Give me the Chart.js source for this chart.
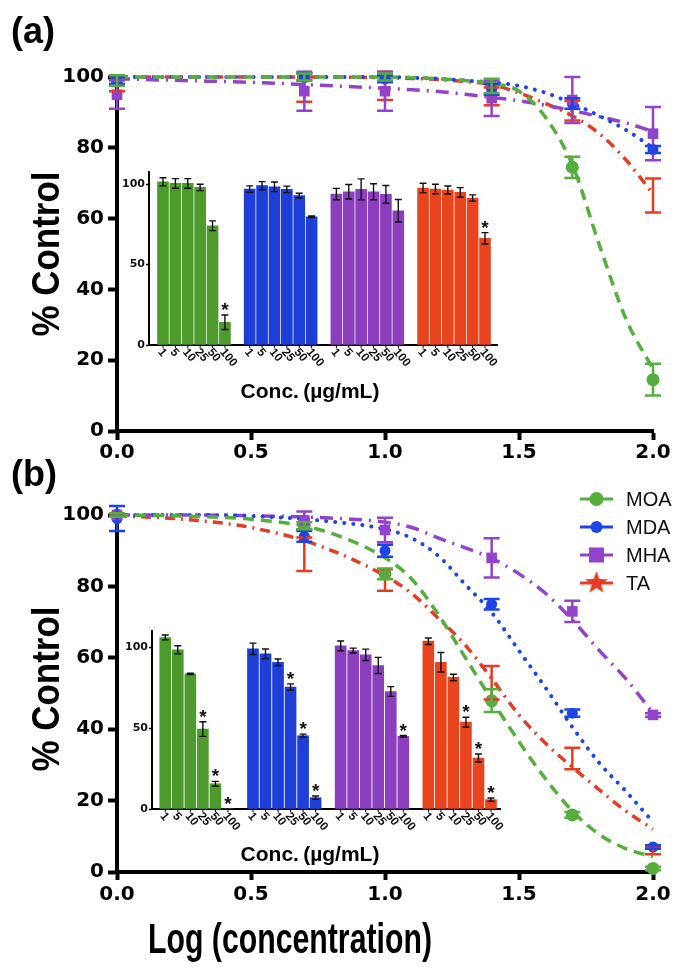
<!DOCTYPE html>
<html><head><meta charset="utf-8">
<script src="https://cdn.jsdelivr.net/npm/chart.js@4.4.1/dist/chart.umd.min.js"></script>
<style>
html,body{margin:0;padding:0;background:#fff;}
#wrap{position:relative;width:676px;height:969px;overflow:hidden;background:#fff;}
canvas{position:absolute;}
.t{position:absolute;font-family:'Liberation Sans',Arial,sans-serif;font-weight:bold;color:#000;white-space:nowrap;line-height:1;}
</style></head><body>
<div id="wrap">
  <canvas id="mainA" width="676" height="480" style="left:0;top:0"></canvas>
  <canvas id="mainB" width="676" height="489" style="left:0;top:480px"></canvas>
  <canvas id="insetA" width="430" height="260" style="left:100px;top:150px"></canvas>
  <canvas id="insetB" width="430" height="260" style="left:100px;top:610px"></canvas>
  <div class="t" style="left:11px;top:13px;font-size:36px;">(a)</div>
  <div class="t" style="left:11px;top:456px;font-size:36px;">(b)</div>
  <div class="t" style="left:46px;top:254px;font-size:38px;transform:translate(-50%,-50%) rotate(-90deg) scaleX(0.92);">% Control</div>
  <div class="t" style="left:46px;top:689px;font-size:38px;transform:translate(-50%,-50%) rotate(-90deg) scaleX(0.92);">% Control</div>
  <div class="t" style="left:290px;top:939px;font-size:42px;transform:translate(-50%,-50%) scaleX(0.72);">Log (concentration)</div>
  <div class="t" style="left:310px;top:390px;font-size:21px;transform:translate(-50%,-50%);">Conc.&thinsp;(µg/mL)</div>
  <div class="t" style="left:310px;top:853px;font-size:21px;transform:translate(-50%,-50%);">Conc.&thinsp;(µg/mL)</div>
</div>
<script>
// ---------------- DATA ----------------
const seriesNames = ['MOA', 'MDA', 'MHA', 'TA'];
const concLabels = ['1', '5', '10', '25', '50', '100'];
const concValues = [1, 5, 10, 25, 50, 100];
const xTickValues = [0, 0.5, 1.0, 1.5, 2.0];
const xTickLabels = ['0.0', '0.5', '1.0', '1.5', '2.0'];
const yTickValues = [0, 20, 40, 60, 80, 100];
const insetTickValues = [0, 50, 100];

// Panel (a) – main points (% control) and errors
const aMOA = [99, 100, 100, 97.5, 74.5, 14.5];
const aMOAerr = [1.5, 1, 1, 2, 3, 4.5];
const aMDA = [99, 100, 99.5, 96.5, 92.5, 79.5];
const aMDAerr = [1, 1, 1, 1.5, 1.5, 1];
const aMHA = [95, 96, 96, 94, 93.5, 84];
const aMHAerr = [4, 5.5, 5.5, 5, 6.5, 7.5];
const aTA = [98, 97, 97.5, 94.5, 90.5, 66.5];
const aTAerr = [2, 4, 4, 2.5, 2.8, 4.8];

// Fitted curves
const curveX = [0, 0.25, 0.5, 0.75, 1.0, 1.1, 1.2, 1.3, 1.4, 1.5, 1.6, 1.7, 1.8, 1.9, 2.0];
const aFitMOA = [100, 100, 100, 100, 100, 99.8, 99.5, 99, 98.2, 96, 88.5, 75, 52.5, 31.5, 17.5];
const aFitMDA = [100, 100, 100, 100, 100, 99.8, 99.5, 99, 98.5, 97.5, 95.5, 92.5, 89, 85, 80];
const aFitMHA = [99.5, 99, 98.5, 97.7, 96.8, 96.4, 95.9, 95.1, 94.2, 93.3, 92, 90.5, 88.8, 87, 84.6];
const aFitTA = [100, 100, 100, 100, 99.8, 99.6, 99.3, 98.7, 97.8, 95.5, 92.5, 89, 84, 76.5, 67];

// Panel (b) – main points and errors
const bMOA = [100, 97, 83.5, 48, 16, 1];
const bMOAerr = [0.5, 1, 1.5, 3.2, 0.8, 0.5];
const bMDA = [99, 94, 90, 75, 44.5, 7];
const bMDAerr = [3.5, 1.5, 1.7, 1.5, 1, 0.5];
const bMHA = [100, 98.5, 95.8, 88, 73, 44];
const bMHAerr = [0.5, 2.5, 3.4, 5.5, 3, 0.5];
const bTA = [100, 89, 81.8, 53, 31.8, 6];
const bTAerr = [0.5, 4.7, 3, 4.7, 3, 1];

const bFitMOA = [100, 99.7, 98.8, 96, 88, 82, 72, 60, 48, 36.5, 26, 17, 10.5, 6.5, 4.3];
const bFitMDA = [100, 100, 99.7, 98.5, 96, 93.5, 88.5, 80.5, 72.5, 62, 51.5, 40.5, 30.5, 22.5, 14];
const bFitMHA = [100, 100, 99.8, 99.3, 98, 96.5, 93.5, 90.8, 87.8, 83.5, 78, 70.5, 62, 54, 44.5];
const bFitTA = [99.8, 98.8, 96.5, 91.5, 83, 78, 71, 63.5, 54, 44, 36, 29.3, 23, 17, 12];

// Inset (a) bars
const iaMOA = [101.4, 100.4, 100.4, 97.9, 74.1, 14.1];
const iaMOAerr = [2.5, 3, 3, 2, 3, 4.5];
const iaMOAsig = [0, 0, 0, 0, 0, 1];
const iaMDA = [96.9, 99, 98.3, 96.7, 92.8, 79.7];
const iaMDAerr = [2, 2.5, 3, 2, 1.5, 0.5];
const iaMDAsig = [0, 0, 0, 0, 0, 0];
const iaMHA = [93.8, 95.2, 96.7, 95.2, 93.6, 83.4];
const iaMHAerr = [3.5, 4.5, 6.5, 5, 5.5, 7];
const iaMHAsig = [0, 0, 0, 0, 0, 0];
const iaTA = [97.5, 96.9, 96.3, 94.8, 91.3, 66.3];
const iaTAerr = [3, 3, 2.5, 3, 2, 3.5];
const iaTAsig = [0, 0, 0, 0, 0, 1];

// Inset (b) bars
const ibMOA = [106, 98.4, 83.5, 49.4, 15.6, 0];
const ibMOAerr = [1.5, 2.5, 0.4, 4.5, 1.5, 0];
const ibMOAsig = [0, 0, 0, 1, 1, 1];
const ibMDA = [99, 95.9, 90.7, 75.3, 45.3, 7];
const ibMDAerr = [3.5, 3, 2, 2, 1, 1];
const ibMDAsig = [0, 0, 0, 1, 1, 1];
const ibMHA = [100.8, 97.9, 95.3, 88.7, 72.6, 44.9];
const ibMHAerr = [3, 1.5, 3.5, 5, 3, 0.5];
const ibMHAsig = [0, 0, 0, 0, 0, 1];
const ibTA = [103.7, 90.7, 81.3, 53.7, 31.5, 5.8];
const ibTAerr = [2, 6, 2, 3, 2.5, 1];
const ibTAsig = [0, 0, 0, 1, 1, 1];

// ---------------- STYLES ----------------
function starImage(color, r) {
  const c = document.createElement('canvas');
  const s = Math.ceil(r * 2 + 2);
  c.width = c.height = s;
  const g = c.getContext('2d');
  g.fillStyle = color;
  g.beginPath();
  for (let k = 0; k < 10; k++) {
    const ang = -Math.PI / 2 + k * Math.PI / 5;
    const rr = (k % 2) ? r * 0.42 : r;
    g.lineTo(s / 2 + rr * Math.cos(ang), s / 2 + rr * Math.sin(ang));
  }
  g.closePath();
  g.fill();
  return c;
}
const styles = [
  { color: '#55ae3e', bar: '#4c9b2c', point: 'circle', r: 6.5, lw: 3.5, dash: [11, 7], cap: 'butt' },
  { color: '#1c44e6', bar: '#1d3fd8', point: 'circle', r: 5.5, lw: 4, dash: [0.1, 9], cap: 'round' },
  { color: '#9343c9', bar: '#8b3fbf', point: 'rect', r: 7.5, lw: 3.5, dash: [13, 7, 2, 7], cap: 'butt' },
  { color: '#e33d25', bar: '#e8451f', point: null, r: 0, lw: 3.5, dash: [10, 6, 2, 6], cap: 'butt' }
];
styles[3].point = starImage('#e33d25', 10);
const legendStar = starImage('#e33d25', 12);

const TICK_FONT = { family: 'DejaVu Sans', weight: 'bold', size: 20 };

// ---------------- PLUGINS ----------------
const errorBars = {
  id: 'errorBars',
  afterDatasetsDraw(chart) {
    const ctx = chart.ctx;
    chart.data.datasets.forEach((ds, i) => {
      if (!ds.errors) return;
      const meta = chart.getDatasetMeta(i);
      const ys = chart.scales[meta.yAxisID];
      ctx.save();
      ctx.strokeStyle = ds.errColor;
      ctx.lineWidth = ds.errWidth;
      meta.data.forEach((el, j) => {
        const e = ds.errors[j];
        if (!e) return;
        const raw = ds.data[j];
        const v = (typeof raw === 'object') ? raw.y : raw;
        const x = el.x;
        const y1 = ys.getPixelForValue(v + e), y2 = ys.getPixelForValue(v - e);
        ctx.beginPath();
        ctx.moveTo(x, y1); ctx.lineTo(x, y2);
        ctx.moveTo(x - ds.capHalf, y1); ctx.lineTo(x + ds.capHalf, y1);
        ctx.moveTo(x - ds.capHalf, y2); ctx.lineTo(x + ds.capHalf, y2);
        ctx.stroke();
      });
      ctx.restore();
    });
  }
};

const insetLabels = {
  id: 'insetLabels',
  afterDraw(chart) {
    const ctx = chart.ctx;
    const ys = chart.scales.y;
    const base = chart.chartArea.bottom;
    ctx.save();
    chart.data.datasets.forEach((ds, i) => {
      const meta = chart.getDatasetMeta(i);
      meta.data.forEach((el, j) => {
        const x = el.x;
        ctx.strokeStyle = '#000'; ctx.lineWidth = 1;
        ctx.beginPath(); ctx.moveTo(x, base); ctx.lineTo(x, base + 3); ctx.stroke();
        ctx.save();
        ctx.translate(x - 3, base + 5);
        ctx.rotate(50 * Math.PI / 180);
        ctx.fillStyle = '#111';
        ctx.font = 'bold 12px "Liberation Sans", Arial, sans-serif';
        ctx.textAlign = 'left';
        ctx.textBaseline = 'middle';
        ctx.fillText(concLabels[j], 0, 0);
        ctx.restore();
        if (ds.sig && ds.sig[j]) {
          const v = ds.data[j].y + (ds.errors[j] || 0);
          ctx.fillStyle = '#111';
          ctx.font = 'bold 19px "Liberation Sans", Arial, sans-serif';
          ctx.textAlign = 'center';
          ctx.textBaseline = 'alphabetic';
          ctx.fillText('*', x, ys.getPixelForValue(v) + 1);
        }
      });
    });
    ctx.restore();
  }
};

const legendB = {
  id: 'legendB',
  afterDraw(chart) {
    const ctx = chart.ctx;
    ctx.save();
    seriesNames.forEach((name, k) => {
      const st = styles[k];
      const y = 19 + k * 28;
      ctx.strokeStyle = st.color; ctx.lineWidth = 3;
      ctx.beginPath(); ctx.moveTo(580, y); ctx.lineTo(613, y); ctx.stroke();
      ctx.fillStyle = st.color;
      if (st.point === 'circle') {
        ctx.beginPath(); ctx.arc(596.5, y, k === 0 ? 7 : 6, 0, Math.PI * 2); ctx.fill();
      } else if (st.point === 'rect') {
        ctx.fillRect(596.5 - 7.5, y - 7.5, 15, 15);
      } else {
        ctx.drawImage(legendStar, 596.5 - legendStar.width / 2, y - legendStar.height / 2);
      }
      ctx.fillStyle = '#111';
      ctx.font = '20px "Liberation Sans", Arial, sans-serif';
      ctx.textAlign = 'left'; ctx.textBaseline = 'middle';
      ctx.fillText(name, 626, y + 1);
    });
    ctx.restore();
  }
};

// ---------------- BUILDERS ----------------
function mainChart(id, pts, errs, fits, geom, extraPlugins) {
  const datasets = [];
  const ordering = [3, 2, 1, 0];
  ordering.forEach(k => {
    const st = styles[k];
    datasets.push({
      label: seriesNames[k],
      data: concValues.map((c, j) => ({ x: Math.log10(c), y: pts[k][j] })),
      errors: errs[k], errColor: st.color, errWidth: 2.5, capHalf: 8,
      pointStyle: st.point, pointRadius: st.r, pointBackgroundColor: st.color,
      pointBorderColor: st.color, pointBorderWidth: 0, showLine: false, clip: false, order: 0
    });
  });
  seriesNames.forEach((n, k) => {
    const st = styles[k];
    datasets.push({
      label: n + ' fit',
      data: curveX.map((x, j) => ({ x: x, y: fits[k][j] })),
      showLine: true, borderColor: st.color, borderWidth: st.lw, borderDash: st.dash,
      borderCapStyle: st.cap, pointRadius: 0, fill: false, cubicInterpolationMode: 'monotone',
      clip: false, order: 1
    });
  });
  return new Chart(document.getElementById(id), {
    type: 'scatter',
    data: { datasets },
    options: {
      responsive: false, animation: false, events: [],
      layout: { padding: { left: 0, right: 23, top: geom.top, bottom: 0 } },
      plugins: { legend: { display: false }, tooltip: { enabled: false } },
      scales: {
        x: {
          type: 'linear', min: 0, max: 2,
          afterBuildTicks: s => { s.ticks = xTickValues.map(v => ({ value: v })); },
          afterFit: s => { s.height = geom.xh; },
          ticks: { callback: (v, i) => xTickLabels[i], font: TICK_FONT, color: '#000', padding: geom.xpad, maxRotation: 0, autoSkip: false },
          grid: { display: true, drawOnChartArea: false, drawTicks: true, tickLength: geom.xtl, tickWidth: 4, color: '#000' },
          border: { display: true, width: 4, color: '#000' }
        },
        y: {
          type: 'linear', min: 0, max: 100,
          afterBuildTicks: s => { s.ticks = yTickValues.map(v => ({ value: v })); },
          afterFit: s => { s.width = 117; },
          ticks: { font: TICK_FONT, color: '#000', padding: 4 },
          grid: { display: true, drawOnChartArea: false, drawTicks: true, tickLength: 9, tickWidth: 4, color: '#000' },
          border: { display: true, width: 4, color: '#000' }
        }
      }
    },
    plugins: [errorBars].concat(extraPlugins || [])
  });
}

function insetChart(id, vals, errs, sigs, geom) {
  const datasets = seriesNames.map((n, k) => ({
    label: n,
    data: vals[k].map((v, j) => ({ x: k * 7 + j, y: v })),
    errors: errs[k], sig: sigs[k], errColor: '#111', errWidth: 1.4, capHalf: 3.5,
    backgroundColor: styles[k].bar, borderWidth: 0, barThickness: geom.bw, grouped: false
  }));
  return new Chart(document.getElementById(id), {
    type: 'bar',
    data: { datasets },
    options: {
      responsive: false, animation: false, events: [],
      layout: { padding: { left: 0, right: geom.right, top: geom.top, bottom: 0 } },
      plugins: { legend: { display: false }, tooltip: { enabled: false } },
      scales: {
        x: {
          type: 'linear', min: geom.xmin, max: geom.xmax, offset: false,
          afterFit: s => { s.height = geom.xh; },
          ticks: { display: false },
          grid: { display: false },
          border: { display: true, width: 2, color: '#000' }
        },
        y: {
          type: 'linear', min: 0, max: geom.ymax,
          afterBuildTicks: s => { s.ticks = insetTickValues.map(v => ({ value: v })); },
          afterFit: s => { s.width = geom.yw; },
          ticks: { font: { family: 'DejaVu Sans', weight: 'bold', size: 11 }, color: '#111', padding: 1 },
          grid: { display: true, drawOnChartArea: false, drawTicks: true, tickLength: 3, tickWidth: 1.5, color: '#000' },
          border: { display: true, width: 2, color: '#000' }
        }
      }
    },
    plugins: [errorBars, insetLabels]
  });
}

mainChart('mainA',
  [aMOA, aMDA, aMHA, aTA], [aMOAerr, aMDAerr, aMHAerr, aTAerr],
  [aFitMOA, aFitMDA, aFitMHA, aFitTA],
  { top: 77, xh: 49, xtl: 9, xpad: 1 });
mainChart('mainB',
  [bMOA, bMDA, bMHA, bTA], [bMOAerr, bMDAerr, bMHAerr, bTAerr],
  [bFitMOA, bFitMDA, bFitMHA, bFitTA],
  { top: 35, xh: 97, xtl: 8, xpad: 3 }, [legendB]);

insetChart('insetA',
  [iaMOA, iaMDA, iaMHA, iaTA], [iaMOAerr, iaMDAerr, iaMHAerr, iaTAerr], [iaMOAsig, iaMDAsig, iaMHAsig, iaTAsig],
  { right: 33, top: 22, xh: 65, yw: 49, ymax: 107.5, xmin: -1.13, xmax: 26.97, bw: 11 });
insetChart('insetB',
  [ibMOA, ibMDA, ibMHA, ibTA], [ibMOAerr, ibMDAerr, ibMHAerr, ibTAerr], [ibMOAsig, ibMDAsig, ibMHAsig, ibTAsig],
  { right: 30, top: 21, xh: 61, yw: 52, ymax: 110, xmin: -1.06, xmax: 26.72, bw: 11 });
</script>
</body></html>
